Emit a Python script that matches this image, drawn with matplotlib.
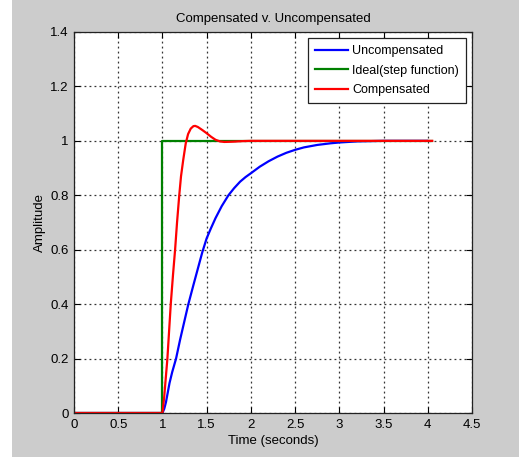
import matplotlib.pyplot as plt
from matplotlib.patches import Rectangle

# values
t_unc = [0, 1.0, 1.02, 1.04, 1.06, 1.08, 1.11, 1.154, 1.2, 1.25, 1.293, 1.35,
         1.4, 1.45, 1.5, 1.55, 1.6, 1.67, 1.746, 1.81, 1.878, 1.94, 2.0, 2.1,
         2.2, 2.3, 2.4, 2.5, 2.6, 2.75, 2.9, 3.0, 3.2, 3.5, 3.99]
y_unc = [0, 0, 0.015, 0.04, 0.075, 0.11, 0.15, 0.2, 0.27, 0.34, 0.4, 0.47,
         0.53, 0.59, 0.642, 0.68, 0.716, 0.76, 0.8, 0.826, 0.85, 0.867, 0.881, 0.905,
         0.925, 0.942, 0.956, 0.967, 0.976, 0.985, 0.991, 0.994, 0.998, 1.0, 1.0]

t_ideal = [0, 1.0, 1.0, 4.05]
y_ideal = [0, 0, 1.0, 1.0]

t_comp = [0, 1.0, 1.02, 1.056, 1.094, 1.12, 1.143, 1.165, 1.19, 1.21, 1.235,
          1.263, 1.29, 1.32, 1.35, 1.37, 1.4, 1.45, 1.5, 1.55, 1.6, 1.65,
          1.7, 1.8, 1.9, 2.0, 4.05]
y_comp = [0, 0, 0.06, 0.2, 0.4, 0.51, 0.6, 0.7, 0.8, 0.87, 0.93,
          0.99, 1.025, 1.045, 1.054, 1.055, 1.051, 1.04, 1.028, 1.015, 1.004, 0.998,
          0.996, 0.997, 0.999, 1.0, 1.0]

xticks = [0, 0.5, 1, 1.5, 2, 2.5, 3, 3.5, 4, 4.5]
xlabels = ['0', '0.5', '1', '1.5', '2', '2.5', '3', '3.5', '4', '4.5']
yticks = [0, 0.2, 0.4, 0.6, 0.8, 1.0, 1.2, 1.4]
ylabels = ['0', '0.2', '0.4', '0.6', '0.8', '1', '1.2', '1.4']

plt.rcParams['font.family'] = ['Liberation Sans Narrow', 'Liberation Sans', 'DejaVu Sans']

fig = plt.figure(figsize=(5.19, 4.57), dpi=100, facecolor='white')
# grey MATLAB figure background, with a white strip at the left
fig.patches.append(Rectangle((12 / 519, 0), 1 - 12 / 519, 1, transform=fig.transFigure,
                             facecolor='#cccccc', edgecolor='none', zorder=-10))

ax = fig.add_axes([74 / 519, 1 - 413 / 457, (472 - 74) / 519, (413 - 32) / 457])
ax.set_facecolor('white')

ax.plot(t_unc, y_unc, color='#0000ff', lw=1.6, label='Uncompensated')
ax.plot(t_ideal, y_ideal, color='#008000', lw=1.6, label='Ideal(step function)')
ax.plot(t_comp, y_comp, color='#ff0000', lw=1.6, label='Compensated')

ax.set_xlim(0, 4.5)
ax.set_ylim(0, 1.4)
ax.set_xticks(xticks)
ax.set_xticklabels(xlabels)
ax.set_yticks(yticks)
ax.set_yticklabels(ylabels)
ax.tick_params(direction='in', top=True, right=True, length=4, width=0.8,
               labelsize=9.5, colors='black', pad=4)
ax.grid(True, color='#333333', linestyle=(0, (1.5, 2.5)), lw=0.9)
for sp in ax.spines.values():
    sp.set_linewidth(0.9)
    sp.set_color('#222222')

ax.set_title('Compensated v. Uncompensated', fontsize=9.5, pad=7)
ax.set_xlabel('Time (seconds)', fontsize=9.5, labelpad=3)
ax.set_ylabel('Amplitude', fontsize=9.5, labelpad=3)

leg = ax.legend(loc='upper right', fontsize=9, fancybox=False, framealpha=1,
                edgecolor='#222222', borderaxespad=0.5, handlelength=2.6,
                handletextpad=0.35, labelspacing=0.6, borderpad=0.55)
leg.get_frame().set_linewidth(0.9)

fig.savefig('out.png', dpi=100, facecolor=fig.get_facecolor())
